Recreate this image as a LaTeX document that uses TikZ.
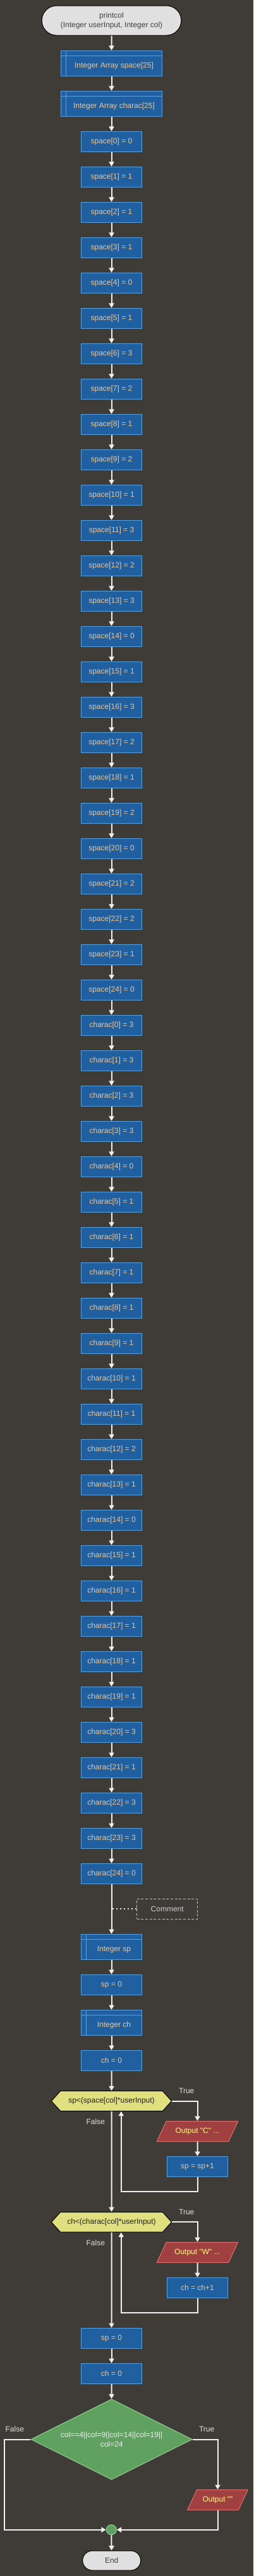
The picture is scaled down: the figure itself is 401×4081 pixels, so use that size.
\documentclass[tikz,border=0pt]{standalone}
\usepackage{fontspec}
\setmainfont{Liberation Sans}[Ligatures=TeXOff]
\usetikzlibrary{arrows.meta,shapes.geometric,shapes.symbols,shapes.misc}

\definecolor{bgcol}{HTML}{3F3B37}
\definecolor{procfill}{HTML}{2060A0}
\definecolor{procline}{HTML}{5A9FE0}
\definecolor{proctext}{HTML}{F2C48E}
\definecolor{termfill}{HTML}{E0E0E0}
\definecolor{termtext}{HTML}{404040}
\definecolor{hexfill}{HTML}{E0E080}
\definecolor{hextext}{HTML}{202020}
\definecolor{outfill}{HTML}{A04040}
\definecolor{outline}{HTML}{E07070}
\definecolor{outtext}{HTML}{FFFF80}
\definecolor{diafill}{HTML}{60A060}
\definecolor{dialine}{HTML}{90D090}
\definecolor{diatext}{HTML}{F0F0F0}
\definecolor{arrcol}{HTML}{F0F0F0}
\definecolor{labcol}{HTML}{E0E0E0}
\definecolor{comline}{HTML}{C0C0C0}
\definecolor{comtext}{HTML}{D0D0D0}

\newcommand{\decltxt}[1]{\hspace*{6pt}\raisebox{-3pt}[\height][\depth]{#1}}

\tikzset{every picture/.style={line width=0.75pt}}
\tikzset{
  base/.style={font=\fontsize{9}{11.25}\selectfont, inner sep=1pt},
  term/.style={base, rounded rectangle, draw=black, fill=termfill, text=termtext, align=center},
  proc/.style={base, draw=procline, fill=procfill, text=proctext, minimum width=72.3pt, minimum height=24pt},
  decl/.style={proc, minimum height=30pt,
    path picture={
      \draw [procline] ([yshift=-6pt]path picture bounding box.north west) -- ([yshift=-6pt]path picture bounding box.north east);
      \draw [procline] ([xshift=6pt]path picture bounding box.north west) -- ([xshift=6pt]path picture bounding box.south west);
    }},
  hexcond/.style={base, signal, signal to=east and west, signal pointer angle=96, draw=black, fill=hexfill, text=hextext, minimum width=142.7pt, minimum height=23.7pt},
  outbox/.style={base, trapezium, trapezium left angle=65, trapezium right angle=115, trapezium stretches body, draw=outline, fill=outfill, text=outtext, text height=7pt, text depth=2pt, inner ysep=7.5pt, minimum width=96.3pt, minimum height=24pt},
  choice/.style={base, diamond, aspect=2, draw=dialine, fill=diafill, text=diatext, align=center, inner sep=0pt, minimum width=191.5pt, minimum height=95.7pt},
  merger/.style={circle, draw=dialine, fill=diafill, minimum size=12pt, inner sep=0pt},
  branch/.style={base, text=labcol},
  note/.style={base, draw=comline, densely dashed, text=comtext, minimum width=72pt, minimum height=24pt},
  arr/.style={draw=arrcol, line width=1.5pt, -{Triangle[length=5.5pt,width=6pt]}},
  notelink/.style={draw=arrcol, line width=1.5pt, dash pattern=on 1.5pt off 3pt},
}

\begin{document}
\begin{tikzpicture}[x=0.75pt,y=0.75pt,yscale=-1,xscale=1]
\useasboundingbox (0,0) rectangle (401,4081);
\fill [bgcol] (0,0) rectangle (401,4081);

%start and declarations
\node [term, minimum width=167.5pt, minimum height=35.25pt] (start) at (176.5,32.5) {printcol\\(Integer userInput, Integer col)};
\node [decl, minimum width=120.3pt] (arrsp) at (176.5,100.3) {\decltxt{Integer Array space[25]}};
\node [decl, minimum width=120.3pt] (arrch) at (176.5,164.3) {\decltxt{Integer Array charac[25]}};

%space values
\node [proc] (s0) at (176.5,224.3) {space[0] = 0};
\node [proc] (s1) at (176.5,280.3) {space[1] = 1};
\node [proc] (s2) at (176.5,336.3) {space[2] = 1};
\node [proc] (s3) at (176.5,392.3) {space[3] = 1};
\node [proc] (s4) at (176.5,448.3) {space[4] = 0};
\node [proc] (s5) at (176.5,504.3) {space[5] = 1};
\node [proc] (s6) at (176.5,560.3) {space[6] = 3};
\node [proc] (s7) at (176.5,616.3) {space[7] = 2};
\node [proc] (s8) at (176.5,672.3) {space[8] = 1};
\node [proc] (s9) at (176.5,728.3) {space[9] = 2};
\node [proc] (s10) at (176.5,784.3) {space[10] = 1};
\node [proc] (s11) at (176.5,840.3) {space[11] = 3};
\node [proc] (s12) at (176.5,896.3) {space[12] = 2};
\node [proc] (s13) at (176.5,952.3) {space[13] = 3};
\node [proc] (s14) at (176.5,1008.3) {space[14] = 0};
\node [proc] (s15) at (176.5,1064.3) {space[15] = 1};
\node [proc] (s16) at (176.5,1120.3) {space[16] = 3};
\node [proc] (s17) at (176.5,1176.3) {space[17] = 2};
\node [proc] (s18) at (176.5,1232.3) {space[18] = 1};
\node [proc] (s19) at (176.5,1288.3) {space[19] = 2};
\node [proc] (s20) at (176.5,1344.3) {space[20] = 0};
\node [proc] (s21) at (176.5,1400.3) {space[21] = 2};
\node [proc] (s22) at (176.5,1456.3) {space[22] = 2};
\node [proc] (s23) at (176.5,1512.3) {space[23] = 1};
\node [proc] (s24) at (176.5,1568.3) {space[24] = 0};

%charac values
\node [proc] (c0) at (176.5,1624.3) {charac[0] = 3};
\node [proc] (c1) at (176.5,1680.3) {charac[1] = 3};
\node [proc] (c2) at (176.5,1736.3) {charac[2] = 3};
\node [proc] (c3) at (176.5,1792.3) {charac[3] = 3};
\node [proc] (c4) at (176.5,1848.3) {charac[4] = 0};
\node [proc] (c5) at (176.5,1904.3) {charac[5] = 1};
\node [proc] (c6) at (176.5,1960.3) {charac[6] = 1};
\node [proc] (c7) at (176.5,2016.3) {charac[7] = 1};
\node [proc] (c8) at (176.5,2072.3) {charac[8] = 1};
\node [proc] (c9) at (176.5,2128.3) {charac[9] = 1};
\node [proc] (c10) at (176.5,2184.3) {charac[10] = 1};
\node [proc] (c11) at (176.5,2240.3) {charac[11] = 1};
\node [proc] (c12) at (176.5,2296.3) {charac[12] = 2};
\node [proc] (c13) at (176.5,2352.3) {charac[13] = 1};
\node [proc] (c14) at (176.5,2408.3) {charac[14] = 0};
\node [proc] (c15) at (176.5,2464.3) {charac[15] = 1};
\node [proc] (c16) at (176.5,2520.3) {charac[16] = 1};
\node [proc] (c17) at (176.5,2576.3) {charac[17] = 1};
\node [proc] (c18) at (176.5,2632.3) {charac[18] = 1};
\node [proc] (c19) at (176.5,2688.3) {charac[19] = 1};
\node [proc] (c20) at (176.5,2744.3) {charac[20] = 3};
\node [proc] (c21) at (176.5,2800.3) {charac[21] = 1};
\node [proc] (c22) at (176.5,2856.3) {charac[22] = 3};
\node [proc] (c23) at (176.5,2912.3) {charac[23] = 3};
\node [proc] (c24) at (176.5,2968.3) {charac[24] = 0};

%comment
\node [note] (comment) at (264.7,3024.3) {Comment};
\coordinate (notept) at (178,3024.3);

%counters
\node [decl] (spdecl) at (176.5,3084.3) {\decltxt{Integer sp}};
\node [proc] (spzero) at (176.5,3144.3) {sp = 0};
\node [decl] (chdecl) at (176.5,3204.3) {\decltxt{Integer ch}};
\node [proc] (chzero) at (176.5,3264.3) {ch = 0};

%first loop
\node [hexcond] (hexsp) at (176.5,3328.5) {sp<(space[col]*userInput)};
\node [outbox] (outc) at (312.5,3376.5) {Output "C" ...};
\node [proc] (spinc) at (312.5,3432.3) {sp = sp+1};
\node [branch] (tsp) at (295.3,3312.7) {True};
\node [branch] (fsp) at (151.3,3360.7) {False};

%second loop
\node [hexcond] (hexch) at (176.5,3520.3) {ch<(charac[col]*userInput)};
\node [outbox] (outw) at (312.5,3568.3) {Output "W" ...};
\node [proc] (chinc) at (312.5,3624.3) {ch = ch+1};
\node [branch] (tch) at (295.3,3504.7) {True};
\node [branch] (fch) at (151.3,3552.7) {False};

%reset and test
\node [proc] (spreset) at (176.5,3704.3) {sp = 0};
\node [proc] (chreset) at (176.5,3760.3) {ch = 0};
\node [choice] (test) at (176.6,3864.5) {col==4||col=9||col=14||col=19||\\col=24};
\node [branch] (ftest) at (23.3,3848.3) {False};
\node [branch] (ttest) at (327.2,3848.3) {True};
\node [outbox, minimum width=71.7pt] (outsp) at (344.5,3960.3) {Output ""};
\node [merger] (merge) at (176.3,4007.7) {};
\node [term, minimum width=71pt, minimum height=23.25pt] (endt) at (176.7,4056.5) {End};

%connectors
\draw [arr] (start) -- (arrsp);
\draw [arr] (arrsp) -- (arrch);
\draw [arr] (arrch) -- (s0);
\draw [arr] (s0) -- (s1);
\draw [arr] (s1) -- (s2);
\draw [arr] (s2) -- (s3);
\draw [arr] (s3) -- (s4);
\draw [arr] (s4) -- (s5);
\draw [arr] (s5) -- (s6);
\draw [arr] (s6) -- (s7);
\draw [arr] (s7) -- (s8);
\draw [arr] (s8) -- (s9);
\draw [arr] (s9) -- (s10);
\draw [arr] (s10) -- (s11);
\draw [arr] (s11) -- (s12);
\draw [arr] (s12) -- (s13);
\draw [arr] (s13) -- (s14);
\draw [arr] (s14) -- (s15);
\draw [arr] (s15) -- (s16);
\draw [arr] (s16) -- (s17);
\draw [arr] (s17) -- (s18);
\draw [arr] (s18) -- (s19);
\draw [arr] (s19) -- (s20);
\draw [arr] (s20) -- (s21);
\draw [arr] (s21) -- (s22);
\draw [arr] (s22) -- (s23);
\draw [arr] (s23) -- (s24);
\draw [arr] (s24) -- (c0);
\draw [arr] (c0) -- (c1);
\draw [arr] (c1) -- (c2);
\draw [arr] (c2) -- (c3);
\draw [arr] (c3) -- (c4);
\draw [arr] (c4) -- (c5);
\draw [arr] (c5) -- (c6);
\draw [arr] (c6) -- (c7);
\draw [arr] (c7) -- (c8);
\draw [arr] (c8) -- (c9);
\draw [arr] (c9) -- (c10);
\draw [arr] (c10) -- (c11);
\draw [arr] (c11) -- (c12);
\draw [arr] (c12) -- (c13);
\draw [arr] (c13) -- (c14);
\draw [arr] (c14) -- (c15);
\draw [arr] (c15) -- (c16);
\draw [arr] (c16) -- (c17);
\draw [arr] (c17) -- (c18);
\draw [arr] (c18) -- (c19);
\draw [arr] (c19) -- (c20);
\draw [arr] (c20) -- (c21);
\draw [arr] (c21) -- (c22);
\draw [arr] (c22) -- (c23);
\draw [arr] (c23) -- (c24);
\draw [arr] (c24) -- (spdecl);
\draw [notelink] (notept) -- (comment);
\draw [arr] (spdecl) -- (spzero);
\draw [arr] (spzero) -- (chdecl);
\draw [arr] (chdecl) -- (chzero);
\draw [arr] (chzero) -- (hexsp);
\draw [arr] (hexsp) -| (outc);
\draw [arr] (outc) -- (spinc);
\draw [arr] (spinc.south) -- ++(0,23.4) -| ([xshift=11.4pt]hexsp.south);
\draw [arr] (hexsp) -- (hexch);
\draw [arr] (hexch) -| (outw);
\draw [arr] (outw) -- (chinc);
\draw [arr] (chinc.south) -- ++(0,23) -| ([xshift=11.4pt]hexch.south);
\draw [arr] (hexch) -- (spreset);
\draw [arr] (spreset) -- (chreset);
\draw [arr] (chreset) -- (test);
\draw [arr] (test.west) -- ++(-41.3,0) |- (merge);
\draw [arr] (test) -| (outsp);
\draw [arr] (outsp) |- (merge);
\draw [arr] (merge) -- (endt);
\end{tikzpicture}
\end{document}
